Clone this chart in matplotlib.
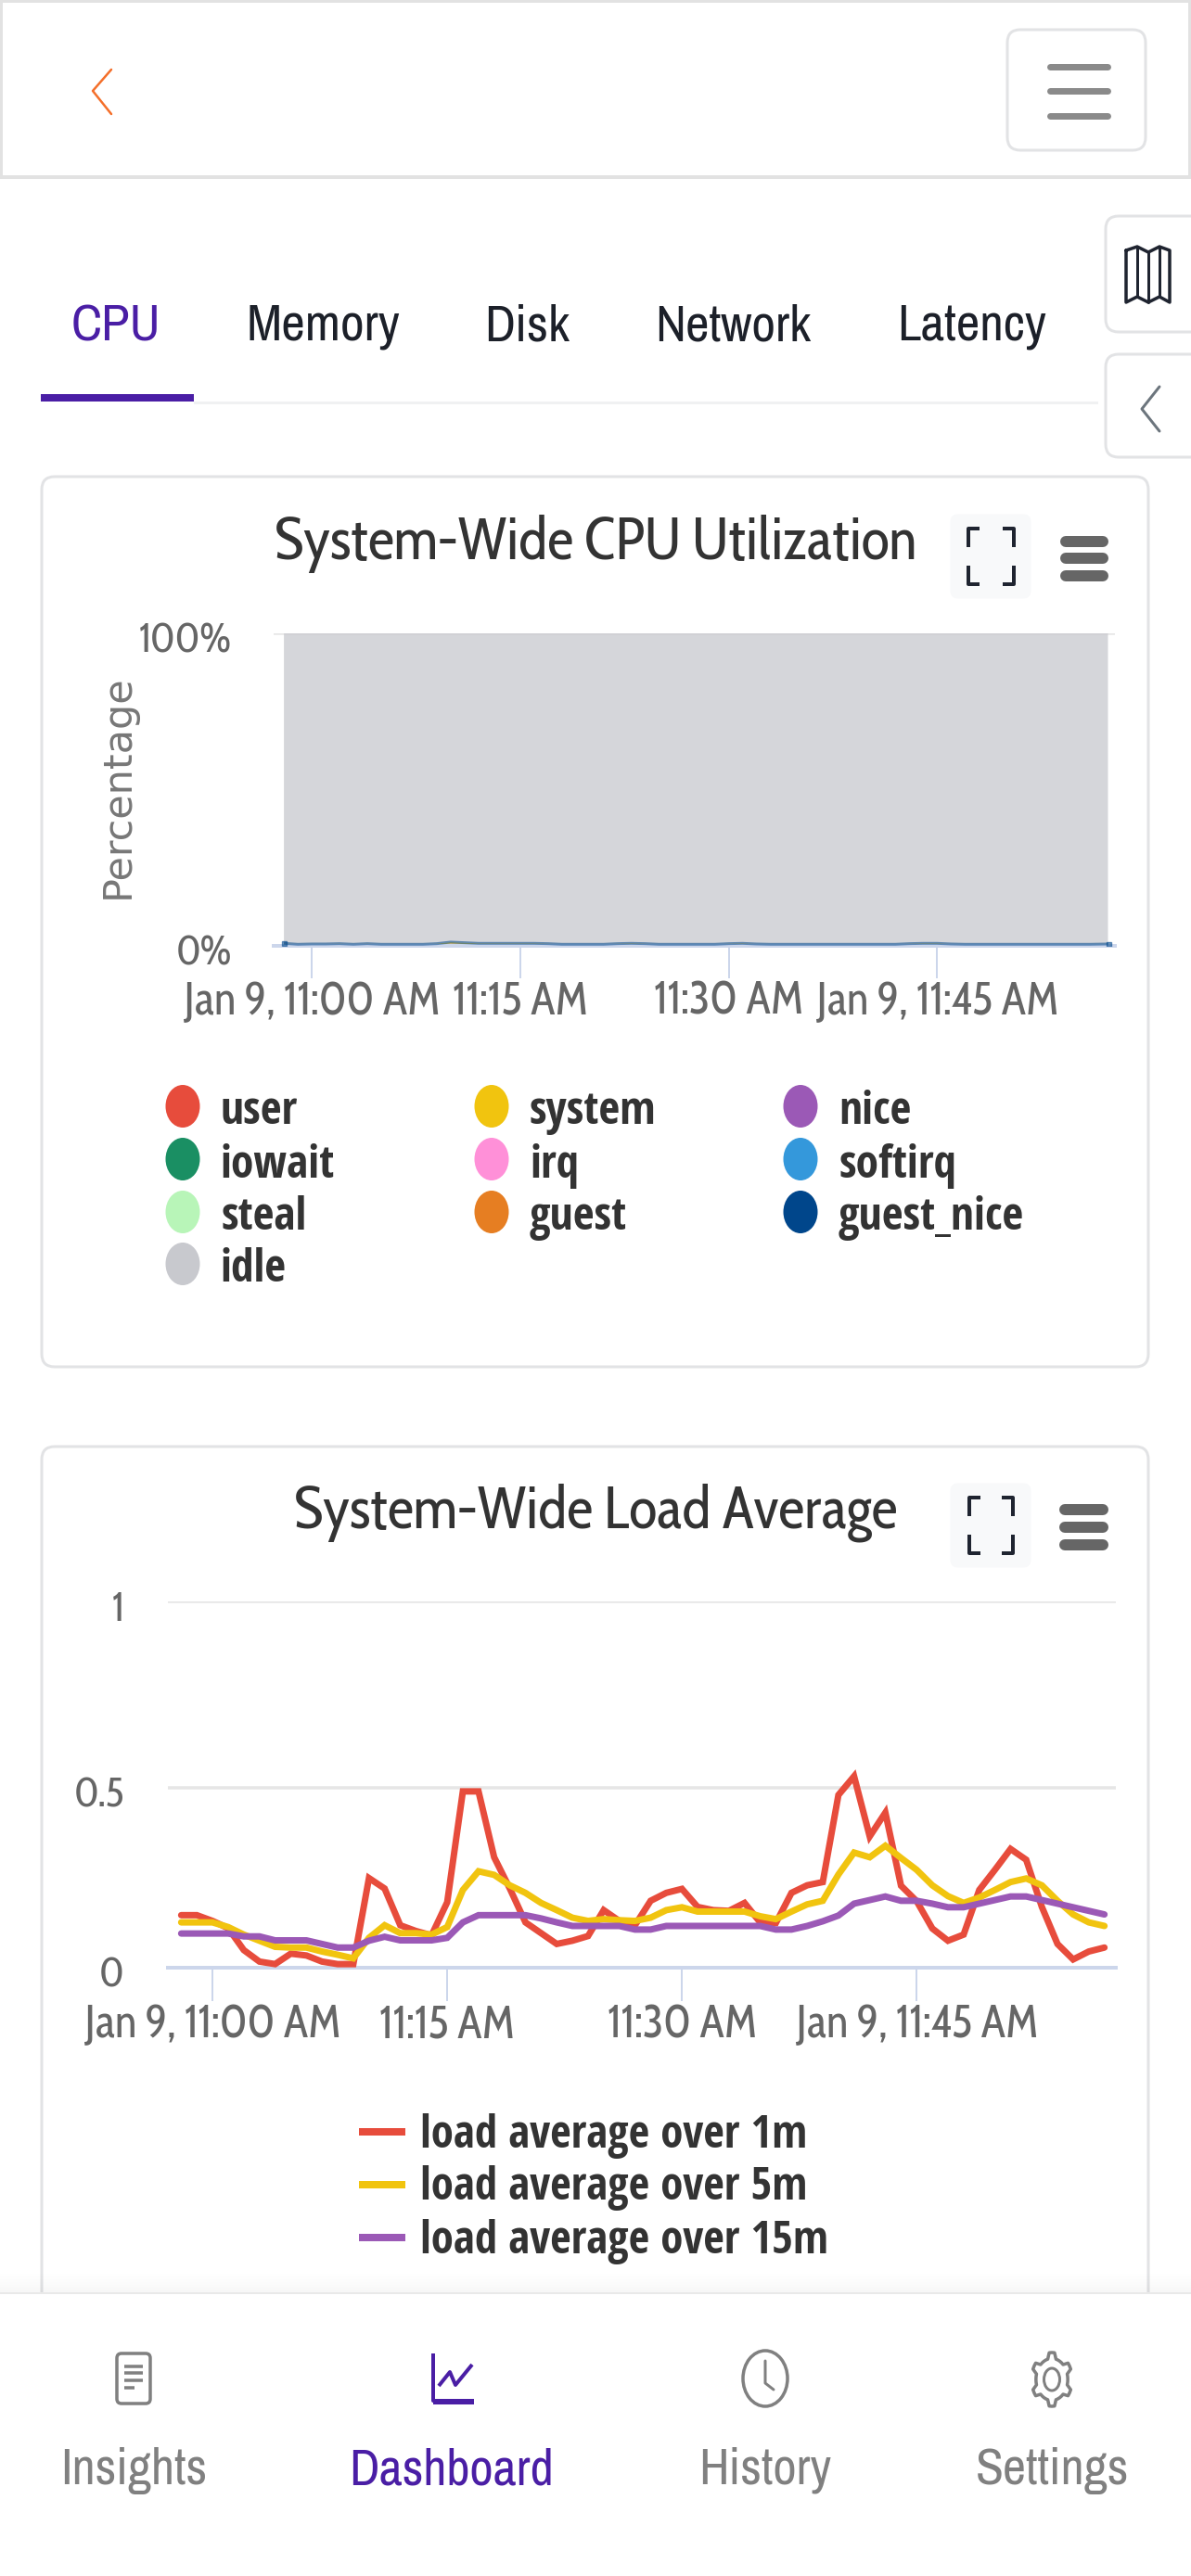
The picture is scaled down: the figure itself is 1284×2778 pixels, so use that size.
# CPU and load charts from the dashboard screen
import matplotlib
matplotlib.use('Agg')
import matplotlib.pyplot as plt
import numpy as np
from matplotlib.patches import FancyBboxPatch, Rectangle, Ellipse, Polygon
from matplotlib.transforms import Affine2D

CHART_FONT = ['Cabin Condensed', 'Archivo Narrow', 'Liberation Sans', 'DejaVu Sans']
LEGEND_FONT = ['Open Sans Condensed', 'Archivo Narrow', 'Liberation Sans', 'DejaVu Sans']
UI_FONT = ['Archivo Narrow', 'Liberation Sans', 'DejaVu Sans']
plt.rcParams['font.family'] = CHART_FONT

W, H = 1284, 2778
DPI = 100

# minutes relative to 11:00
minutes = list(range(-2, 58))
cpu_minutes = minutes[:-1] + [57.3]
tick_minutes = [0, 15, 30, 45]
cpu_tick_labels = ['Jan 9, 11:00 AM', '11:15 AM', '11:30 AM', 'Jan 9, 11:45 AM']
load_tick_labels = ['Jan 9, 11:00 AM', '11:15 AM', '11:30 AM', 'Jan 9, 11:45 AM']

load_1m = [.146, .146, .13, .11, .049, .017, .01, .039, .034, .017,
           .01, .01, .249, .22, .118, .102, .09, .182, .49, .49,
           .307, .22, .126, .096, .066, .075, .088, .16, .13, .118,
           .186, .208, .219, .169, .16, .158, .18, .126, .124, .208,
           .229, .238, .48, .532, .365, .431, .228, .185, .109, .075,
           .092, .216, .272, .33, .30, .169, .066, .023, .045, .056]
load_5m = [.126, .126, .126, .113, .092, .075, .058, .056, .056, .045,
           .036, .026, .083, .118, .096, .096, .092, .113, .216, .268,
           .258, .229, .208, .18, .16, .139, .13, .135, .132, .13,
           .139, .16, .168, .156, .156, .156, .156, .143, .135, .156,
           .176, .186, .259, .32, .307, .339, .305, .272, .229, .199,
           .18, .195, .216, .238, .248, .229, .186, .148, .126, .116]
load_15m = [.095, .095, .095, .095, .087, .087, .076, .076, .076, .066,
            .056, .056, .075, .086, .076, .076, .076, .083, .126, .146,
            .146, .146, .146, .137, .126, .116, .116, .116, .116, .106,
            .106, .116, .116, .116, .116, .116, .116, .116, .106, .106,
            .116, .129, .145, .178, .188, .198, .186, .186, .178, .168,
            .168, .178, .188, .198, .198, .188, .178, .168, .158, .148]
load_labels = ['load average over 1m', 'load average over 5m', 'load average over 15m']
load_colors = ['#e74c3c', '#f1c40f', '#9b59b6']
load_ticks = [0, 0.5, 1.018]
load_ticklabels = ['0', '0.5', '1']

cpu_user = [.5, .3, .3, .3, .4, .3, .4, .3, .3, .3,
            .3, .4, .7, .6, .5, .5, .5, .5, .5, .5,
            .3, .3, .3, .3, .4, .5, .4, .3, .3, .3,
            .3, .3, .4, .5, .4, .3, .3, .3, .3, .3,
            .3, .3, .3, .3, .3, .4, .5, .5, .4, .3,
            .3, .3, .3, .3, .3, .3, .3, .3, .3, .3]
cpu_system = [.3, .2, .3, .3, .3, .2, .3, .2, .2, .2,
              .2, .3, .5, .4, .3, .3, .3, .3, .3, .2,
              .2, .2, .2, .2, .3, .3, .3, .2, .2, .2,
              .2, .2, .3, .3, .2, .2, .2, .2, .2, .2,
              .2, .2, .2, .2, .2, .3, .3, .3, .2, .2,
              .2, .2, .2, .2, .2, .2, .2, .2, .2, .3]
cpu_nice = [0.0] * 60
cpu_iowait = [0.0] * 60
cpu_irq = [0.0] * 60
cpu_softirq = [0.0] * 60
cpu_steal = [0.0] * 60
cpu_guest = [0.0] * 60
cpu_guest_nice = [0.0] * 60
cpu_idle = [99.2, 99.5, 99.4, 99.4, 99.3, 99.5, 99.3, 99.5, 99.5, 99.5,
            99.5, 99.3, 98.8, 99.0, 99.2, 99.2, 99.2, 99.2, 99.2, 99.3,
            99.5, 99.5, 99.5, 99.5, 99.3, 99.2, 99.3, 99.5, 99.5, 99.5,
            99.5, 99.5, 99.3, 99.2, 99.4, 99.5, 99.5, 99.5, 99.5, 99.5,
            99.5, 99.5, 99.5, 99.5, 99.5, 99.3, 99.2, 99.2, 99.4, 99.5,
            99.5, 99.5, 99.5, 99.5, 99.5, 99.5, 99.5, 99.5, 99.5, 99.4]

cpu_labels = ['user', 'system', 'nice', 'iowait', 'irq', 'softirq',
              'steal', 'guest', 'guest_nice', 'idle']
cpu_colors = ['#e74c3c', '#f1c40f', '#9b59b6', '#1a8f63', '#ff90d8', '#3498db',
              '#b8f5b8', '#e67e22', '#00468b', '#c8c9ce']
cpu_series = [cpu_user, cpu_system, cpu_nice, cpu_iowait, cpu_irq, cpu_softirq,
              cpu_steal, cpu_guest, cpu_guest_nice, cpu_idle]
cpu_ticks = [0, 100]
cpu_ticklabels = ['0%', '100%']

tab_names = ['CPU', 'Memory', 'Disk', 'Network', 'Latency']
nav_names = ['Insights', 'Dashboard', 'History', 'Settings']

PURPLE = '#4a1ea5'
AXIS = '#ccd6eb'
GRID = '#e6e6e6'


def px(n):
    # pixels to points
    return n * 72 / DPI


fig = plt.figure(figsize=(W / DPI, H / DPI), dpi=DPI, facecolor='white')
bg = fig.add_axes([0, 0, 1, 1], zorder=0)
bg.set_xlim(0, W)
bg.set_ylim(H, 0)
bg.axis('off')


def box(x0, y0, x1, y1, r=12, fc='white', ec='#e2e3e5', lw=3, ax=bg, z=1):
    p = FancyBboxPatch((x0 + r, y0 + r), x1 - x0 - 2 * r, y1 - y0 - 2 * r,
                       boxstyle='round,pad=%d,rounding_size=%d' % (r, r),
                       fc=fc, ec=ec, lw=px(lw), zorder=z)
    ax.add_patch(p)


def line(xs, ys, color, lw, cap='round', z=3):
    bg.plot(xs, ys, color=color, lw=px(lw), solid_capstyle=cap,
            solid_joinstyle='round', zorder=z)


def label(x, y, s, size, color='#333333', weight='normal', ha='center', family=CHART_FONT, z=4):
    bg.text(x, y, s, fontsize=px(size), color=color, fontweight=weight, ha=ha,
            va='center', family=family, zorder=z)


def expand_icon(x0, y0, x1, y1, color='#1f2430'):
    dx, dy = 12, 20
    for sx, xa in ((1, x0), (-1, x1)):
        for sy, ya in ((1, y0), (-1, y1)):
            line([xa + sx * dx, xa, xa], [ya, ya, ya + sy * dy], color, 4, cap='butt')


def card_tools(bx0, by0, bx1, by1, ix0, iy0, ix1, iy1, hx0, hx1, hy):
    box(bx0, by0, bx1, by1, r=8, fc='#f8f9fa', ec='#f8f9fa', lw=1)
    expand_icon(ix0, iy0, ix1, iy1)
    for y in hy:
        line([hx0 + 6, hx1 - 6], [y, y], '#666666', 12)


# header
bg.add_patch(Rectangle((1, 1), W - 2, 190, fc='white', ec='#e2e2e2', lw=px(4), zorder=1))
line([120, 100, 120], [75, 98, 123], '#f46f2a', 2.5)
box(1086, 32, 1235, 162, r=14)
for y in (72, 98, 125):
    line([1132, 1194], [y, y], '#8a8a8a', 7)

# tabs
tab_x = [125, 348, 568, 790, 1048]
for i, name in enumerate(tab_names):
    label(tab_x[i], 352, name, 56, color=PURPLE if i == 0 else '#1c2029', family=UI_FONT)
bg.add_patch(Rectangle((44, 425), 165, 8, fc=PURPLE, ec='none', zorder=3))
bg.add_patch(Rectangle((209, 433), 975, 3, fc='#f0f1f2', ec='none', zorder=2))

# side buttons
box(1192, 233, 1310, 358, r=14)
box(1192, 382, 1310, 493, r=14)
bg.add_patch(Rectangle((1284, 220), 20, 290, fc='white', ec='none', zorder=2))
map_col = '#1f2430'
line([1214, 1214, 1226, 1238, 1250, 1261, 1261, 1250, 1238, 1226, 1214],
     [270, 326, 320, 326, 320, 326, 270, 266, 272, 266, 270], map_col, 3.5)
line([1226, 1226], [266, 320], map_col, 3)
line([1238, 1238], [272, 326], map_col, 3)
line([1250, 1250], [266, 320], map_col, 3)
line([1250, 1231, 1250], [417, 441, 465], '#6c757d', 3)

# cards
box(45, 514, 1238, 1474, r=14)
box(45, 1560, 1238, 2560, r=14)

# first card
label(642, 587, 'System-Wide CPU Utilization', 63, color='#333333')
card_tools(1025, 555, 1111, 645, 1044, 570, 1093, 630, 1143, 1195, (584, 602, 621))
ax1 = fig.add_axes([295 / W, 1 - 1020 / H, (1202 - 295) / W, (1020 - 683) / H], zorder=2)
ax1.patch.set_alpha(0)
ax1.stackplot(cpu_minutes, cpu_series, colors=cpu_colors, alpha=0.75, lw=0)
stack_top = np.sum(cpu_series[:-1], axis=0)
ax1.plot(cpu_minutes, stack_top, color='#00468b', lw=px(3), alpha=0.55, marker='s', ms=px(5),
         markevery=[0, 59], solid_capstyle='butt', zorder=4)
ax1.set_xlim(-2.74, 57.8)
ax1.set_ylim(0, 100)
ax1.set_xticks(tick_minutes)
ax1.set_xticklabels(cpu_tick_labels)
ax1.set_yticks(cpu_ticks)
ax1.set_yticklabels(cpu_ticklabels)
ax1.set_ylabel('Percentage', fontsize=px(43), color='#777777', family='DejaVu Sans',
               labelpad=px(2), y=0.51)

# second card
label(642, 1631, 'System-Wide Load Average', 63, color='#333333')
card_tools(1025, 1600, 1111, 1690, 1045, 1615, 1092, 1675, 1142, 1195, (1628, 1647, 1666))
ax2 = fig.add_axes([181 / W, 1 - 2122 / H, (1203 - 181) / W, (2122 - 1727) / H], zorder=2)
ax2.patch.set_alpha(0)
for vals, col, name in zip((load_1m, load_5m, load_15m), load_colors, load_labels):
    ax2.plot(minutes, vals, color=col, lw=px(7), solid_joinstyle='miter',
             solid_capstyle='round', label=name, zorder=3, clip_on=False)
ax2.set_xlim(-2.85, 57.73)
ax2.set_ylim(0, 1.018)
ax2.set_xticks(tick_minutes)
ax2.set_xticklabels(load_tick_labels)
ax2.set_yticks(load_ticks)
ax2.set_yticklabels(load_ticklabels)

for ax, tick_len, ypad in ((ax1, 35, 45), (ax2, 36, 47)):
    for side in ('top', 'right', 'left'):
        ax.spines[side].set_visible(False)
    ax.spines['bottom'].set_color(AXIS)
    ax.spines['bottom'].set_linewidth(px(4))
    ax.yaxis.grid(True, color=GRID, lw=px(3.5), zorder=0)
    ax.set_axisbelow(True)
    ax.tick_params(axis='x', length=px(tick_len), width=px(2), color=AXIS, labelsize=px(49),
                   labelcolor='#666666', pad=px(1))
    ax.tick_params(axis='y', length=0, labelsize=px(44), labelcolor='#666666', pad=px(ypad))
    # y labels sit a little below their gridlines
    for lab in ax.get_yticklabels():
        lab.set_transform(lab.get_transform() + Affine2D().translate(0, -4))

# CPU legend, three columns
leg_x = [197, 530, 863]
leg_y = [1193, 1250, 1307, 1363]
for i, name in enumerate(cpu_labels):
    col, row = i % 3, i // 3
    bg.add_patch(Ellipse((leg_x[col], leg_y[row]), 37, 46, fc=cpu_colors[i], ec='none', zorder=3))
    label(leg_x[col] + 41, leg_y[row] + 7, name, 49.5, weight='bold', ha='left', family=LEGEND_FONT)

# load legend
for y, name, col in zip((2299, 2356, 2413), load_labels, load_colors):
    line([387, 437], [y, y], col, 8, cap='butt')
    label(453, y + 4, name, 49, weight='bold', ha='left', family=LEGEND_FONT)

# bottom nav
for i, a in enumerate(np.linspace(0.0, 0.03, 8)):
    bg.add_patch(Rectangle((0, 2449 + i * 3), W, 3, fc='black', alpha=a, ec='none', zorder=6))
bg.add_patch(Rectangle((0, 2473), W, 305, fc='white', ec='none', zorder=7))
line([0, W], [2473, 2473], '#e9e9e9', 2, cap='butt', z=8)

GRAY = '#808080'
nav_x = [144, 487, 825, 1134]
for i, name in enumerate(nav_names):
    label(nav_x[i], 2664, name, 55, color=PURPLE if i == 1 else GRAY, family=UI_FONT, z=9)

box(126, 2538, 162, 2592, r=5, fc='white', ec=GRAY, lw=3.5, z=8)
for y, x1 in ((2552, 154), (2559, 154), (2567, 154), (2575, 145)):
    line([134, x1], [y, y], GRAY, 3.5, cap='butt', z=9)

line([467, 467, 511], [2538, 2589, 2589], PURPLE, 4, cap='butt', z=9)
line([467, 511], [2590, 2590], PURPLE, 6, cap='butt', z=9)
line([473, 485, 491, 509], [2573, 2558, 2572, 2550], PURPLE, 4, cap='butt', z=9)

bg.add_patch(Ellipse((825, 2565), 48, 60, fc='none', ec=GRAY, lw=px(3.5), zorder=9))
line([825, 825, 834], [2546, 2570, 2577], GRAY, 3, z=9)

# gear outline
ang = np.linspace(0, 2 * np.pi, 48, endpoint=False) + np.pi / 2
rad = np.where(np.cos(6 * (ang - np.pi / 2)) > 0.1, 1.0, 0.78)
bg.add_patch(Polygon(np.column_stack((1134 + 22 * rad * np.cos(ang), 2566 + 29 * rad * np.sin(ang))),
                     closed=True, fc='white', ec=GRAY, lw=px(3.5), joinstyle='round', zorder=9))
bg.add_patch(Ellipse((1134, 2566), 17, 24, fc='white', ec=GRAY, lw=px(3), zorder=10))

fig.savefig('out.png', dpi=DPI)
